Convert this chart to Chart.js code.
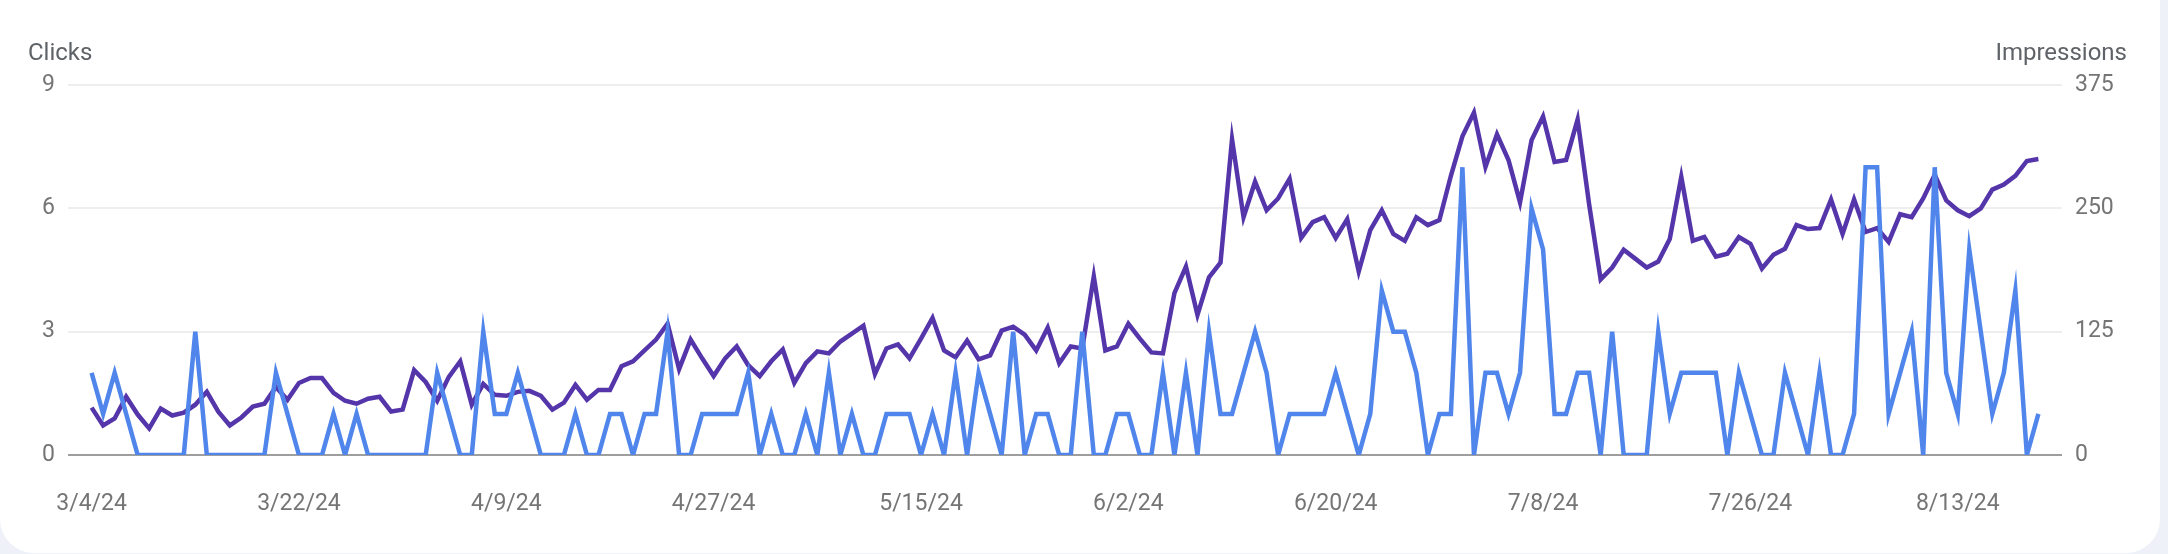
<!DOCTYPE html>
<html><head><meta charset="utf-8">
<script src="https://cdn.jsdelivr.net/npm/chart.js@4.4.1/dist/chart.umd.min.js"></script>
<style>
html,body{margin:0;padding:0;width:2168px;height:554px;overflow:hidden;background:#eef1f8;}
#card{position:absolute;left:0;top:-60px;width:2160px;height:613px;background:#fff;border-radius:34px;}
#wrap{position:absolute;left:0;top:0;width:2168px;height:554px;}
.ttl{position:absolute;top:40px;font-family:Roboto,sans-serif;font-size:24px;line-height:1;color:#5f6368;white-space:nowrap;}
</style></head><body>
<div id="card"></div>
<div id="wrap"><canvas id="c" width="2168" height="554"></canvas></div>
<div class="ttl" style="left:28px">Clicks</div>
<div class="ttl" style="right:41px">Impressions</div>
<script>
const startDate = [2024, 3, 4];
const dayCount = 170;
const tickLabels = ['3/4/24','3/22/24','4/9/24','4/27/24','5/15/24','6/2/24','6/20/24','7/8/24','7/26/24','8/13/24'];
const clicksTicks = [0, 3, 6, 9];
const impressionsTicks = [0, 125, 250, 375];

const clicks = [
2,1,2,1,0,0,0,0,0,3, 0,0,0,0,0,0,2,1,0,0, 0,1,0,1,0,0,0,0,0,0,
2,1,0,0,3,1,1,2,1,0, 0,0,1,0,0,1,1,0,1,1, 3,0,0,1,1,1,1,2,0,1,
0,0,1,0,2,0,1,0,0,1, 1,1,0,1,0,2,0,2,1,0, 3,0,1,1,0,0,3,0,0,1,
1,0,0,2,0,2,0,3,1,1, 2,3,2,0,1,1,1,1,2,1, 0,1,4,3,3,2,0,1,1,7,
0,2,2,1,2,6,5,1,1,2, 2,0,3,0,0,0,3,1,2,2, 2,2,0,2,1,0,0,2,1,0,
2,0,0,1,7,7,1,2,3,0, 7,2,1,5,3,1,2,4,0,1
];
const impressions = [
48,30,37,59,41,27,47,40,43,51, 64,44,30,38,49,52,69,56,73,78, 78,63,55,52,57,59,44,46,86,74,
55,79,95,51,72,61,60,64,65,60, 46,53,71,56,66,66,90,95,106,117, 133,87,117,98,80,98,110,91,80,95,
107,73,93,105,103,115,123,131,82,108, 112,98,118,139,106,99,116,97,101,126, 130,122,106,129,93,110,108,181,106,110,
133,118,104,103,164,191,142,180,195,320, 241,277,248,260,280,220,236,241,220,239, 186,228,248,224,217,241,233,238,283,323,
347,292,325,299,256,319,343,297,299,340, 254,178,190,208,199,190,196,219,282,217, 221,201,204,221,214,189,203,209,233,229,
230,259,224,259,226,230,216,244,241,260, 284,258,248,242,250,269,274,283,298,300
];

const dayLabels = [];
for (let i = 0; i < dayCount; i++) {
  const d = new Date(startDate[0], startDate[1] - 1, startDate[2] + i);
  dayLabels.push((d.getMonth() + 1) + '/' + d.getDate() + '/' + String(d.getFullYear()).slice(2));
}
const tickIdx = tickLabels.map(l => dayLabels.indexOf(l));

const tickFont = {family: 'Roboto', size: 23};
const tickColor = '#757575';

new Chart(document.getElementById('c'), {
  type: 'line',
  data: {
    datasets: [
      {label: 'Clicks', data: clicks.map((v, i) => ({x: i, y: v})), yAxisID: 'y',
       borderColor: '#5086ec', borderWidth: 4.5, pointRadius: 0, tension: 0, fill: false},
      {label: 'Impressions', data: impressions.map((v, i) => ({x: i, y: v})), yAxisID: 'y1',
       borderColor: '#5535aa', borderWidth: 4.5, pointRadius: 0, tension: 0, fill: false}
    ]
  },
  options: {
    responsive: false,
    animation: false,
    devicePixelRatio: 1,
    layout: {padding: {top: 85, left: 0, right: 0, bottom: 0}},
    plugins: {legend: {display: false}, tooltip: {enabled: false}},
    scales: {
      x: {
        type: 'linear', min: -2.05, max: 171.05,
        grid: {display: false}, border: {display: false},
        afterBuildTicks: s => { s.ticks = tickIdx.map(v => ({value: v})); },
        afterFit: s => { s.height = 99; },
        ticks: {padding: 27, font: tickFont, color: tickColor, maxRotation: 0, autoSkip: false,
                callback: v => dayLabels[v]}
      },
      y: {
        position: 'left', min: 0, max: 9,
        afterBuildTicks: s => { s.ticks = clicksTicks.map(v => ({value: v})); },
        afterFit: s => { s.width = 68; },
        border: {display: false},
        grid: {drawTicks: false, lineWidth: 2,
               color: c => (c.tick && c.tick.value === 0) ? '#9e9e9e' : '#eeeeee'},
        ticks: {padding: 13, font: tickFont, color: tickColor}
      },
      y1: {
        position: 'right', min: 0, max: 375,
        afterBuildTicks: s => { s.ticks = impressionsTicks.map(v => ({value: v})); },
        afterFit: s => { s.width = 106; },
        border: {display: false},
        grid: {display: false, drawTicks: false},
        ticks: {padding: 13, font: tickFont, color: tickColor}
      }
    }
  }
});
</script>
</body></html>
